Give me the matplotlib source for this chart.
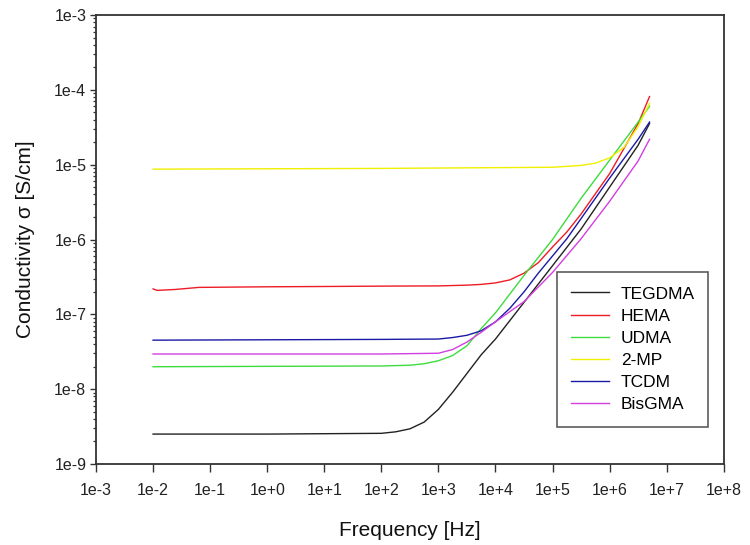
import numpy as np
import matplotlib
matplotlib.use("Agg")
import matplotlib.pyplot as plt
from matplotlib.ticker import FixedLocator, LogLocator, FuncFormatter, NullLocator

plt.rcParams['font.family'] = ['Liberation Sans', 'DejaVu Sans']

# log10 of frequency [Hz] at which values were read, and log10 of conductivity [S/cm]
logf_teg = [-2, 0, 2.0, 2.25, 2.5, 2.75, 3.0, 3.25, 3.5, 3.75, 4.0, 4.5, 5.0, 5.5, 6.0, 6.5, 6.7]
teg = [-8.60, -8.60, -8.59, -8.57, -8.53, -8.44, -8.27, -8.04, -7.79, -7.54, -7.33, -6.84, -6.35, -5.86, -5.30, -4.74, -4.45]

logf_hema = [-2, -1.93, -1.6, -1.2, 0, 1, 2, 3, 3.5, 3.75, 4.0, 4.25, 4.5, 4.75, 5.0, 5.25, 5.5, 6.0, 6.5, 6.7]
hema = [-6.660, -6.680, -6.667, -6.640, -6.632, -6.628, -6.623, -6.62, -6.61, -6.60, -6.58, -6.54, -6.45, -6.31, -6.10, -5.90, -5.66, -5.12, -4.45, -4.09]

logf_udma = [-2, 0, 2, 2.5, 2.75, 3.0, 3.25, 3.5, 3.75, 4.0, 4.5, 5.0, 5.5, 6.0, 6.5, 6.7]
udma = [-7.70, -7.695, -7.69, -7.68, -7.66, -7.62, -7.55, -7.42, -7.19, -6.98, -6.48, -6.00, -5.45, -4.94, -4.43, -4.22]

logf_mp = [-2, 0, 2, 4, 5.0, 5.5, 5.75, 6.0, 6.25, 6.5, 6.7]
mp = [-5.06, -5.055, -5.05, -5.04, -5.035, -5.01, -4.98, -4.91, -4.77, -4.49, -4.18]

logf_tcdm = [-2, 0, 2, 3.0, 3.25, 3.5, 3.75, 4.0, 4.25, 4.5, 4.75, 5.0, 5.25, 5.5, 6.0, 6.5, 6.7]
tcdm = [-7.345, -7.34, -7.335, -7.33, -7.31, -7.28, -7.22, -7.10, -6.92, -6.70, -6.45, -6.22, -5.99, -5.72, -5.18, -4.66, -4.43]

logf_bis = [-2, 0, 2, 3.0, 3.25, 3.5, 3.75, 4.0, 4.5, 5.0, 5.5, 6.0, 6.5, 6.7]
bis = [-7.53, -7.53, -7.53, -7.52, -7.47, -7.37, -7.24, -7.10, -6.83, -6.44, -5.99, -5.49, -4.95, -4.66]

names = ['TEGDMA', 'HEMA', 'UDMA', '2-MP', 'TCDM', 'BisGMA']
colors = ['#222222', '#ee1c25', '#3ddc3d', '#f0f000', '#1a1aa6', '#d23fe0']
series = [(logf_teg, teg), (logf_hema, hema), (logf_udma, udma),
          (logf_mp, mp), (logf_tcdm, tcdm), (logf_bis, bis)]

x_ticks = [1e-3, 1e-2, 1e-1, 1e0, 1e1, 1e2, 1e3, 1e4, 1e5, 1e6, 1e7, 1e8]
y_ticks = [1e-9, 1e-8, 1e-7, 1e-6, 1e-5, 1e-4, 1e-3]

fig = plt.figure(figsize=(7.5, 5.45), dpi=100)
ax = fig.add_axes([0.128, 0.1486, 0.837, 0.8239])

for (lf, lv), name, c in zip(series, names, colors):
    ax.plot(10 ** np.array(lf), 10 ** np.array(lv), color=c, lw=1.0, label=name)

ax.set_xscale('log')
ax.set_yscale('log')
ax.set_xlim(1e-3, 1e8)
ax.set_ylim(1e-9, 1e-3)

def fmt(v, pos):
    e = int(round(np.log10(v)))
    return f"1e{e:+d}" if e >= 0 else f"1e{e}"

ax.xaxis.set_major_locator(FixedLocator(x_ticks))
ax.xaxis.set_minor_locator(NullLocator())
ax.yaxis.set_major_locator(FixedLocator(y_ticks))
ax.yaxis.set_minor_locator(LogLocator(base=10, subs=np.arange(2, 10), numticks=20))
ax.xaxis.set_major_formatter(FuncFormatter(fmt))
ax.yaxis.set_major_formatter(FuncFormatter(fmt))

ax.tick_params(axis='x', which='major', direction='out', length=5.5, width=1.0,
               labelsize=11.5, colors='#333333', labelcolor='#222222', pad=8)
ax.tick_params(axis='y', which='major', direction='out', length=4, width=1.0,
               labelsize=11.5, colors='#333333', labelcolor='#222222', pad=3)
ax.tick_params(axis='y', which='minor', direction='out', length=2, width=0.9, colors='#333333')
ax.tick_params(top=False, right=False)

for s in ax.spines.values():
    s.set_linewidth(1.3)
    s.set_color('#333333')

ax.set_xlabel('Frequency [Hz]', fontsize=15, color='#111111', labelpad=17)
ax.set_ylabel('Conductivity σ [S/cm]', fontsize=15, color='#111111', labelpad=14)

leg = ax.legend(loc='lower left', bbox_to_anchor=(0.7336, 0.083, 0.2414, 0.345),
                mode='expand', fontsize=12.5, frameon=True, fancybox=False,
                edgecolor='#333333', handlelength=2.2, handletextpad=0.65,
                labelspacing=0.40, borderpad=0.85, borderaxespad=0)
leg.get_frame().set_linewidth(1.2)

fig.savefig('out.png', dpi=100)
